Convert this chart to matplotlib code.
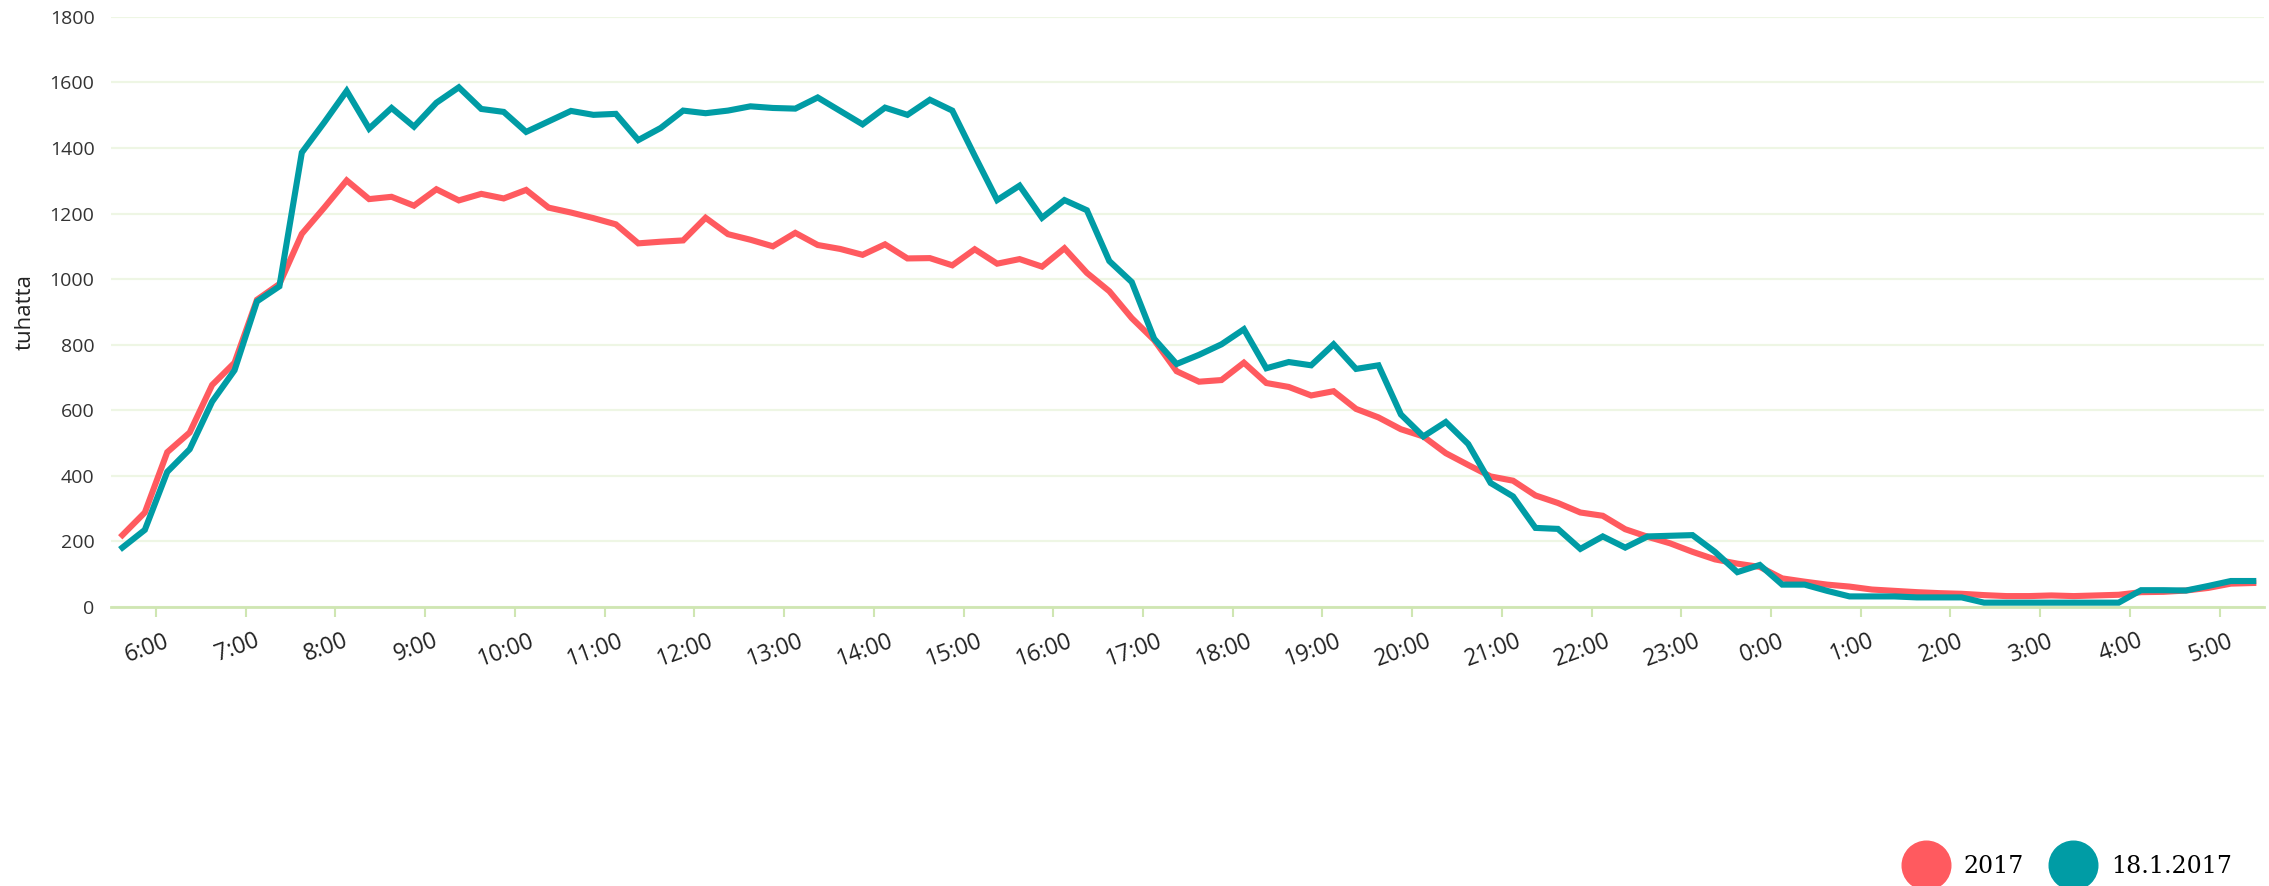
"""Passenger volume by quarter hour: 2017 average vs 18.1.2017."""

import matplotlib
matplotlib.use("Agg")
import matplotlib.pyplot as plt
import matplotlib.transforms as mtransforms
from matplotlib.lines import Line2D
import numpy as np

HOUR_LABELS = ["6:00", "7:00", "8:00", "9:00", "10:00", "11:00", "12:00", "13:00",
               "14:00", "15:00", "16:00", "17:00", "18:00", "19:00", "20:00", "21:00",
               "22:00", "23:00", "0:00", "1:00", "2:00", "3:00", "4:00", "5:00"]

# quarter-hour values from 5:30 to 5:15 next morning (thousands)
avg_2017 = [219, 288, 472, 532, 677, 745, 937, 985, 1138, 1218,
            1301, 1244, 1251, 1224, 1274, 1240, 1260, 1246, 1272, 1218,
            1203, 1186, 1167, 1109, 1114, 1118, 1187, 1137, 1120, 1100,
            1141, 1104, 1092, 1074, 1106, 1063, 1064, 1042, 1091, 1047,
            1061, 1038, 1094, 1019, 963, 881, 814, 719, 687, 692,
            745, 683, 671, 645, 658, 604, 578, 542, 520, 469,
            433, 398, 385, 340, 317, 288, 278, 237, 214, 194,
            168, 145, 132, 122, 87, 77, 68, 62, 53, 49,
            45, 42, 40, 36, 33, 33, 35, 33, 35, 37,
            45, 46, 50, 58, 71, 73]
day_180117 = [181, 235, 412, 481, 626, 722, 932, 978, 1386, 1478,
              1574, 1459, 1522, 1465, 1538, 1585, 1519, 1510, 1449, 1481,
              1513, 1501, 1504, 1424, 1461, 1514, 1506, 1514, 1527, 1522,
              1520, 1554, 1513, 1472, 1523, 1501, 1547, 1514, 1376, 1241,
              1285, 1187, 1241, 1210, 1055, 991, 818, 741, 769, 801,
              847, 728, 747, 737, 801, 726, 737, 587, 520, 564,
              497, 378, 337, 241, 238, 177, 215, 181, 215, 217,
              219, 168, 106, 128, 68, 68, 49, 32, 32, 32,
              29, 29, 29, 13, 13, 13, 13, 13, 13, 13,
              51, 51, 50, 64, 79, 79]

RED = "#ff5a5f"
TEAL = "#009ca5"
GRID = "#eef6e4"
AXIS = "#cfe6b2"

x = np.arange(len(avg_2017))

fig = plt.figure(figsize=(22.69, 8.86), dpi=100)
ax = fig.add_axes([0.049, 0.315, 0.949, 0.666])

ax.plot(x, avg_2017, color=RED, lw=4.4, solid_joinstyle="miter", zorder=3)
ax.plot(x, day_180117, color=TEAL, lw=4.4, solid_joinstyle="miter", zorder=4)

ax.set_xlim(-0.5, len(x) - 0.5)
ax.set_ylim(0, 1800)
ax.set_yticks(np.arange(0, 1801, 200))
ax.tick_params(axis="y", length=0, labelsize=14, labelcolor="#333333", pad=12)
ax.yaxis.grid(True, color=GRID, lw=1.6)
ax.set_axisbelow(True)

tick_pos = 1.5 + 4 * np.arange(len(HOUR_LABELS))
ax.set_xticks(tick_pos)
ax.set_xticklabels(HOUR_LABELS, rotation=20, ha="center", fontsize=16.5,
                   color="#222222", fontfamily="Open Sans")
ax.tick_params(axis="x", length=7, width=1.5, color=AXIS, pad=9)
shift = mtransforms.ScaledTranslation(-9 / 100, 0, fig.dpi_scale_trans)
for lbl in ax.get_xticklabels():
    lbl.set_transform(lbl.get_transform() + shift)

for side in ("top", "right", "left"):
    ax.spines[side].set_visible(False)
ax.spines["bottom"].set_color(AXIS)
ax.spines["bottom"].set_linewidth(2)

for lbl in ax.get_yticklabels():
    lbl.set_fontfamily("Open Sans")

ax.set_ylabel("tuhatta", fontsize=16, color="#222222", fontfamily="Open Sans", labelpad=10)

handles = [Line2D([], [], ls="", marker="o", ms=35, color=RED),
           Line2D([], [], ls="", marker="o", ms=35, color=TEAL)]
fig.legend(handles, ["2017", "18.1.2017"], loc="center right",
           bbox_to_anchor=(0.993, 0.022), ncol=2, frameon=False,
           prop={"family": "DejaVu Serif", "size": 17},
           handletextpad=0.8, columnspacing=1.3, handlelength=1.6)

fig.savefig("out.png", dpi=100)
